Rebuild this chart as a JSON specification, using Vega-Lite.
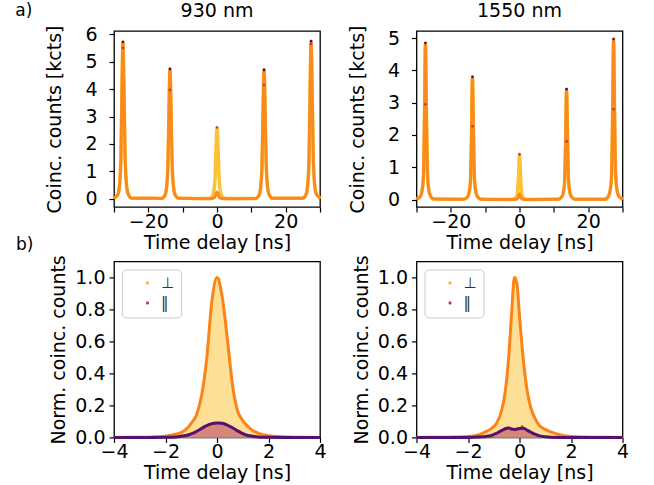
{
  "$schema": "https://vega.github.io/schema/vega-lite/v6.json",
  "padding": {"left": 15, "top": 1, "right": 5, "bottom": 0},
  "title": {"text": "a)", "anchor": "start", "frame": "bounds", "fontSize": 17, "offset": -19},
  "columns": 2,
  "bounds": "flush",
  "spacing": {"column": 96.5, "row": 54.4},
  "resolve": {"scale": {"color": "independent"}, "legend": {"color": "independent"}},
  "datasets": {
    "top930": [
      {"t": -30, "perp": 0, "par": 0},
      {"t": -29.9, "perp": 0.017, "par": 0.017},
      {"t": -28.9, "perp": 0.15, "par": 0.148},
      {"t": -28.4, "perp": 0.489, "par": 0.485},
      {"t": -28.0, "perp": 1.44, "par": 1.425},
      {"t": -27.7, "perp": 3.91, "par": 3.876},
      {"t": -27.4, "perp": 5.75, "par": 5.7},
      {"t": -27.1, "perp": 4.14, "par": 4.1},
      {"t": -26.8, "perp": 1.725, "par": 1.71},
      {"t": -26.4, "perp": 0.575, "par": 0.57},
      {"t": -25.9, "perp": 0.184, "par": 0.182},
      {"t": -24.9, "perp": 0.023, "par": 0.023},
      {"t": -16.2, "perp": 0.014, "par": 0.014},
      {"t": -15.2, "perp": 0.124, "par": 0.123},
      {"t": -14.7, "perp": 0.404, "par": 0.402},
      {"t": -14.3, "perp": 1.19, "par": 1.18},
      {"t": -14.0, "perp": 3.23, "par": 3.22},
      {"t": -13.7, "perp": 4.75, "par": 4.73},
      {"t": -13.4, "perp": 3.42, "par": 3.41},
      {"t": -13.1, "perp": 1.43, "par": 1.42},
      {"t": -12.7, "perp": 0.475, "par": 0.473},
      {"t": -12.2, "perp": 0.152, "par": 0.151},
      {"t": -11.2, "perp": 0.019, "par": 0.019},
      {"t": -2.5, "perp": 0.008, "par": 0.001},
      {"t": -1.5, "perp": 0.068, "par": 0.007},
      {"t": -1.0, "perp": 0.221, "par": 0.021},
      {"t": -0.6, "perp": 0.65, "par": 0.063},
      {"t": -0.3, "perp": 1.77, "par": 0.17},
      {"t": 0, "perp": 2.6, "par": 0.25},
      {"t": 0.3, "perp": 1.87, "par": 0.18},
      {"t": 0.6, "perp": 0.78, "par": 0.075},
      {"t": 1.0, "perp": 0.26, "par": 0.025},
      {"t": 1.5, "perp": 0.083, "par": 0.008},
      {"t": 2.5, "perp": 0.01, "par": 0.001},
      {"t": 11.2, "perp": 0.014, "par": 0.014},
      {"t": 12.2, "perp": 0.123, "par": 0.122},
      {"t": 12.7, "perp": 0.401, "par": 0.4},
      {"t": 13.1, "perp": 1.18, "par": 1.175},
      {"t": 13.4, "perp": 3.21, "par": 3.2},
      {"t": 13.7, "perp": 4.72, "par": 4.7},
      {"t": 14.0, "perp": 3.4, "par": 3.38},
      {"t": 14.3, "perp": 1.42, "par": 1.41},
      {"t": 14.7, "perp": 0.472, "par": 0.47},
      {"t": 15.2, "perp": 0.151, "par": 0.15},
      {"t": 16.2, "perp": 0.019, "par": 0.019},
      {"t": 24.9, "perp": 0.017, "par": 0.017},
      {"t": 25.9, "perp": 0.15, "par": 0.149},
      {"t": 26.4, "perp": 0.489, "par": 0.486},
      {"t": 26.8, "perp": 1.44, "par": 1.43},
      {"t": 27.1, "perp": 3.91, "par": 3.89},
      {"t": 27.4, "perp": 5.75, "par": 5.72},
      {"t": 27.7, "perp": 4.14, "par": 4.12},
      {"t": 28.0, "perp": 1.725, "par": 1.72},
      {"t": 28.4, "perp": 0.575, "par": 0.572},
      {"t": 28.9, "perp": 0.184, "par": 0.183},
      {"t": 29.9, "perp": 0.023, "par": 0.023},
      {"t": 30, "perp": 0, "par": 0}
    ],
    "top1550": [
      {"t": -30, "perp": 0, "par": 0},
      {"t": -29.9, "perp": 0.01, "par": 0.01},
      {"t": -28.9, "perp": 0.097, "par": 0.097},
      {"t": -28.4, "perp": 0.267, "par": 0.266},
      {"t": -28.0, "perp": 0.68, "par": 0.676},
      {"t": -27.7, "perp": 2.43, "par": 2.42},
      {"t": -27.4, "perp": 4.85, "par": 4.83},
      {"t": -27.1, "perp": 2.67, "par": 2.66},
      {"t": -26.8, "perp": 0.776, "par": 0.773},
      {"t": -26.4, "perp": 0.291, "par": 0.29},
      {"t": -25.9, "perp": 0.107, "par": 0.106},
      {"t": -24.9, "perp": 0.015, "par": 0.014},
      {"t": -16.2, "perp": 0.008, "par": 0.008},
      {"t": -15.2, "perp": 0.076, "par": 0.076},
      {"t": -14.7, "perp": 0.209, "par": 0.208},
      {"t": -14.3, "perp": 0.532, "par": 0.531},
      {"t": -14.0, "perp": 1.9, "par": 1.9},
      {"t": -13.7, "perp": 3.8, "par": 3.79},
      {"t": -13.4, "perp": 2.09, "par": 2.08},
      {"t": -13.1, "perp": 0.608, "par": 0.606},
      {"t": -12.7, "perp": 0.228, "par": 0.227},
      {"t": -12.2, "perp": 0.084, "par": 0.083},
      {"t": -11.2, "perp": 0.011, "par": 0.011},
      {"t": -2.5, "perp": 0.003, "par": 0.0},
      {"t": -1.5, "perp": 0.028, "par": 0.004},
      {"t": -1.0, "perp": 0.077, "par": 0.01},
      {"t": -0.6, "perp": 0.196, "par": 0.025},
      {"t": -0.3, "perp": 0.7, "par": 0.09},
      {"t": 0, "perp": 1.4, "par": 0.18},
      {"t": 0.3, "perp": 0.77, "par": 0.099},
      {"t": 0.6, "perp": 0.224, "par": 0.029},
      {"t": 1.0, "perp": 0.084, "par": 0.011},
      {"t": 1.5, "perp": 0.031, "par": 0.004},
      {"t": 2.5, "perp": 0.004, "par": 0.001},
      {"t": 11.2, "perp": 0.007, "par": 0.007},
      {"t": 12.2, "perp": 0.068, "par": 0.068},
      {"t": 12.7, "perp": 0.188, "par": 0.188},
      {"t": 13.1, "perp": 0.479, "par": 0.477},
      {"t": 13.4, "perp": 1.71, "par": 1.7},
      {"t": 13.7, "perp": 3.42, "par": 3.41},
      {"t": 14.0, "perp": 1.88, "par": 1.88},
      {"t": 14.3, "perp": 0.547, "par": 0.546},
      {"t": 14.7, "perp": 0.205, "par": 0.205},
      {"t": 15.2, "perp": 0.075, "par": 0.075},
      {"t": 16.2, "perp": 0.01, "par": 0.01},
      {"t": 24.9, "perp": 0.01, "par": 0.01},
      {"t": 25.9, "perp": 0.099, "par": 0.099},
      {"t": 26.4, "perp": 0.273, "par": 0.272},
      {"t": 26.8, "perp": 0.696, "par": 0.693},
      {"t": 27.1, "perp": 2.49, "par": 2.48},
      {"t": 27.4, "perp": 4.97, "par": 4.95},
      {"t": 27.7, "perp": 2.73, "par": 2.72},
      {"t": 28.0, "perp": 0.795, "par": 0.792},
      {"t": 28.4, "perp": 0.298, "par": 0.297},
      {"t": 28.9, "perp": 0.109, "par": 0.109},
      {"t": 29.9, "perp": 0.015, "par": 0.015},
      {"t": 30, "perp": 0, "par": 0}
    ],
    "dots930": [
      {"t": -27.4, "v": 5.72, "s": "a"},
      {"t": -27.4, "v": 5.5, "s": "b"},
      {"t": -13.7, "v": 4.73, "s": "a"},
      {"t": -13.7, "v": 3.97, "s": "b"},
      {"t": 0, "v": 2.6, "s": "b"},
      {"t": 13.7, "v": 4.7, "s": "a"},
      {"t": 13.7, "v": 4.15, "s": "b"},
      {"t": 27.4, "v": 5.75, "s": "a"},
      {"t": 27.4, "v": 5.65, "s": "b"}
    ],
    "dots1550": [
      {"t": -27.4, "v": 4.85, "s": "a"},
      {"t": -27.4, "v": 2.95, "s": "b"},
      {"t": -13.7, "v": 3.8, "s": "a"},
      {"t": -13.7, "v": 2.27, "s": "b"},
      {"t": 0, "v": 1.4, "s": "b"},
      {"t": 13.7, "v": 3.42, "s": "a"},
      {"t": 13.7, "v": 1.8, "s": "b"},
      {"t": 27.4, "v": 4.97, "s": "a"},
      {"t": 27.4, "v": 2.8, "s": "b"}
    ],
    "bot930": [
      {"t": -4, "perp": 0, "par": 0},
      {"t": -3, "perp": 0.001, "par": 0},
      {"t": -2.5, "perp": 0.003, "par": 0},
      {"t": -2, "perp": 0.008, "par": 0.001},
      {"t": -1.6, "perp": 0.02, "par": 0.003},
      {"t": -1.4, "perp": 0.03, "par": 0.007},
      {"t": -1.2, "perp": 0.05, "par": 0.012},
      {"t": -1.0, "perp": 0.088, "par": 0.022},
      {"t": -0.8, "perp": 0.14, "par": 0.037},
      {"t": -0.6, "perp": 0.26, "par": 0.056},
      {"t": -0.4, "perp": 0.49, "par": 0.074},
      {"t": -0.2, "perp": 0.85, "par": 0.086},
      {"t": 0, "perp": 1.0, "par": 0.09},
      {"t": 0.2, "perp": 0.88, "par": 0.088},
      {"t": 0.4, "perp": 0.62, "par": 0.077},
      {"t": 0.6, "perp": 0.33, "par": 0.06},
      {"t": 0.8, "perp": 0.165, "par": 0.041},
      {"t": 1.0, "perp": 0.105, "par": 0.024},
      {"t": 1.2, "perp": 0.068, "par": 0.012},
      {"t": 1.4, "perp": 0.042, "par": 0.007},
      {"t": 1.6, "perp": 0.026, "par": 0.003},
      {"t": 2.0, "perp": 0.01, "par": 0.001},
      {"t": 2.5, "perp": 0.004, "par": 0},
      {"t": 3, "perp": 0.001, "par": 0},
      {"t": 4, "perp": 0, "par": 0}
    ],
    "bot1550": [
      {"t": -4, "perp": 0, "par": 0},
      {"t": -3, "perp": 0.001, "par": 0},
      {"t": -2.5, "perp": 0.002, "par": 0},
      {"t": -2, "perp": 0.005, "par": 0},
      {"t": -1.6, "perp": 0.015, "par": 0.002},
      {"t": -1.3, "perp": 0.036, "par": 0.006},
      {"t": -1.1, "perp": 0.055, "par": 0.012},
      {"t": -0.9, "perp": 0.085, "par": 0.025},
      {"t": -0.7, "perp": 0.165, "par": 0.042},
      {"t": -0.55, "perp": 0.29, "par": 0.054},
      {"t": -0.42, "perp": 0.5, "par": 0.058},
      {"t": -0.3, "perp": 0.79, "par": 0.053},
      {"t": -0.2, "perp": 1.0, "par": 0.049},
      {"t": -0.1, "perp": 0.96, "par": 0.052},
      {"t": 0, "perp": 0.76, "par": 0.056},
      {"t": 0.14, "perp": 0.5, "par": 0.057},
      {"t": 0.3, "perp": 0.29, "par": 0.045},
      {"t": 0.45, "perp": 0.18, "par": 0.032},
      {"t": 0.6, "perp": 0.12, "par": 0.02},
      {"t": 0.75, "perp": 0.078, "par": 0.011},
      {"t": 1.0, "perp": 0.05, "par": 0.004},
      {"t": 1.2, "perp": 0.036, "par": 0.001},
      {"t": 1.6, "perp": 0.015, "par": 0},
      {"t": 2.0, "perp": 0.005, "par": 0},
      {"t": 2.5, "perp": 0.002, "par": 0},
      {"t": 3, "perp": 0.001, "par": 0},
      {"t": 4, "perp": 0, "par": 0}
    ],
    "pts930": [
      {"t": -3.5, "v": 0.002, "pol": "⊥"},
      {"t": -2.5, "v": 0.004, "pol": "⊥"},
      {"t": -1.2, "v": 0.055, "pol": "⊥"},
      {"t": -0.9, "v": 0.11, "pol": "⊥"},
      {"t": -0.7, "v": 0.19, "pol": "⊥"},
      {"t": -0.5, "v": 0.37, "pol": "⊥"},
      {"t": -0.3, "v": 0.7, "pol": "⊥"},
      {"t": -0.1, "v": 0.97, "pol": "⊥"},
      {"t": 0.1, "v": 0.99, "pol": "⊥"},
      {"t": 0.3, "v": 0.77, "pol": "⊥"},
      {"t": 0.5, "v": 0.46, "pol": "⊥"},
      {"t": 0.7, "v": 0.22, "pol": "⊥"},
      {"t": 0.9, "v": 0.13, "pol": "⊥"},
      {"t": 1.2, "v": 0.07, "pol": "⊥"},
      {"t": 2.5, "v": 0.004, "pol": "⊥"},
      {"t": 3.5, "v": 0.002, "pol": "⊥"},
      {"t": -2.2, "v": 0.001, "pol": "‖"},
      {"t": -0.8, "v": 0.04, "pol": "‖"},
      {"t": -0.5, "v": 0.066, "pol": "‖"},
      {"t": -0.3, "v": 0.08, "pol": "‖"},
      {"t": -0.1, "v": 0.09, "pol": "‖"},
      {"t": 0.1, "v": 0.09, "pol": "‖"},
      {"t": 0.3, "v": 0.082, "pol": "‖"},
      {"t": 0.5, "v": 0.07, "pol": "‖"},
      {"t": 0.8, "v": 0.04, "pol": "‖"},
      {"t": 2.2, "v": 0.001, "pol": "‖"}
    ],
    "pts1550": [
      {"t": -3.5, "v": 0.002, "pol": "⊥"},
      {"t": -1.0, "v": 0.07, "pol": "⊥"},
      {"t": -0.8, "v": 0.12, "pol": "⊥"},
      {"t": -0.6, "v": 0.22, "pol": "⊥"},
      {"t": -0.45, "v": 0.44, "pol": "⊥"},
      {"t": -0.35, "v": 0.68, "pol": "⊥"},
      {"t": -0.25, "v": 0.92, "pol": "⊥"},
      {"t": -0.15, "v": 1.0, "pol": "⊥"},
      {"t": -0.05, "v": 0.9, "pol": "⊥"},
      {"t": 0.05, "v": 0.66, "pol": "⊥"},
      {"t": 0.2, "v": 0.4, "pol": "⊥"},
      {"t": 0.35, "v": 0.25, "pol": "⊥"},
      {"t": 0.55, "v": 0.14, "pol": "⊥"},
      {"t": 0.8, "v": 0.07, "pol": "⊥"},
      {"t": 1.1, "v": 0.04, "pol": "⊥"},
      {"t": 3.5, "v": 0.002, "pol": "⊥"},
      {"t": -0.8, "v": 0.035, "pol": "‖"},
      {"t": -0.55, "v": 0.056, "pol": "‖"},
      {"t": -0.45, "v": 0.06, "pol": "‖"},
      {"t": -0.3, "v": 0.05, "pol": "‖"},
      {"t": -0.2, "v": 0.046, "pol": "‖"},
      {"t": -0.05, "v": 0.053, "pol": "‖"},
      {"t": 0.1, "v": 0.068, "pol": "‖"},
      {"t": 0.3, "v": 0.045, "pol": "‖"},
      {"t": 0.5, "v": 0.026, "pol": "‖"},
      {"t": 0.7, "v": 0.014, "pol": "‖"}
    ]
  },
  "concat": [
    {
      "width": 206, "height": 176,
      "title": {"text": "930 nm", "offset": 4},
      "layer": [
        {
          "data": {"name": "top930"},
          "mark": {"type": "line", "color": "#fbbf2b", "strokeWidth": 3.5, "interpolate": "monotone", "opacity": 0.95},
          "encoding": {
            "x": {"field": "t", "type": "quantitative", "title": "Time delay [ns]", "scale": {"domain": [-30, 30], "nice": false, "zero": false}, "axis": {"values": [-30, -20, -10, 0, 10, 20, 30], "tickCount": 50, "format": "d", "labelPadding": 0, "titlePadding": 2, "labelExpr": "datum.value % 20 == 0 ? datum.label : ''"}},
            "y": {"field": "perp", "type": "quantitative", "title": "Coinc. counts [kcts]", "scale": {"domain": [-0.3, 6.12], "nice": false, "zero": false}, "axis": {"values": [0, 1, 2, 3, 4, 5, 6], "tickCount": 50, "format": "d", "labelPadding": 12, "titlePadding": 20}}
          }
        },
        {
          "data": {"name": "top930"},
          "mark": {"type": "line", "color": "#f98b1e", "strokeWidth": 3, "interpolate": "monotone"},
          "encoding": {
            "x": {"field": "t", "type": "quantitative", "title": "Time delay [ns]"},
            "y": {"field": "par", "type": "quantitative", "title": "Coinc. counts [kcts]"}
          }
        },
        {
          "data": {"name": "dots930"},
          "mark": {"type": "circle", "size": 7, "opacity": 1},
          "encoding": {
            "x": {"field": "t", "type": "quantitative", "title": "Time delay [ns]"},
            "y": {"field": "v", "type": "quantitative", "title": "Coinc. counts [kcts]"},
            "color": {"field": "s", "type": "nominal", "scale": {"domain": ["a", "b"], "range": ["#4a0c6b", "#bc3754"]}, "legend": null}
          }
        }
      ]
    },
    {
      "width": 206, "height": 176,
      "title": {"text": "1550 nm", "offset": 4},
      "layer": [
        {
          "data": {"name": "top1550"},
          "mark": {"type": "line", "color": "#fbbf2b", "strokeWidth": 3.5, "interpolate": "monotone", "opacity": 0.95},
          "encoding": {
            "x": {"field": "t", "type": "quantitative", "title": "Time delay [ns]", "scale": {"domain": [-30, 30], "nice": false, "zero": false}, "axis": {"values": [-30, -20, -10, 0, 10, 20, 30], "tickCount": 50, "format": "d", "labelPadding": 0, "titlePadding": 2, "labelExpr": "datum.value % 20 == 0 ? datum.label : ''"}},
            "y": {"field": "perp", "type": "quantitative", "title": "Coinc. counts [kcts]", "scale": {"domain": [-0.23, 5.22], "nice": false, "zero": false}, "axis": {"values": [0, 1, 2, 3, 4, 5], "tickCount": 50, "format": "d", "labelPadding": 12, "titlePadding": 20}}
          }
        },
        {
          "data": {"name": "top1550"},
          "mark": {"type": "line", "color": "#f98b1e", "strokeWidth": 3, "interpolate": "monotone"},
          "encoding": {
            "x": {"field": "t", "type": "quantitative", "title": "Time delay [ns]"},
            "y": {"field": "par", "type": "quantitative", "title": "Coinc. counts [kcts]"}
          }
        },
        {
          "data": {"name": "dots1550"},
          "mark": {"type": "circle", "size": 7, "opacity": 1},
          "encoding": {
            "x": {"field": "t", "type": "quantitative", "title": "Time delay [ns]"},
            "y": {"field": "v", "type": "quantitative", "title": "Coinc. counts [kcts]"},
            "color": {"field": "s", "type": "nominal", "scale": {"domain": ["a", "b"], "range": ["#4a0c6b", "#bc3754"]}, "legend": null}
          }
        }
      ]
    },
    {
      "width": 206, "height": 176,
      "title": {"text": "b)", "anchor": "start", "frame": "group", "fontSize": 17, "offset": 1, "dx": -98},
      "layer": [
        {
          "data": {"name": "bot930"},
          "mark": {"type": "area", "color": "#fddf96", "interpolate": "monotone"},
          "encoding": {
            "x": {"field": "t", "type": "quantitative", "title": "Time delay [ns]", "scale": {"domain": [-4, 4], "nice": false, "zero": false}, "axis": {"values": [-4, -2, 0, 2, 4], "tickCount": 50, "format": "d", "labelPadding": 0, "titlePadding": 2}},
            "y": {"field": "perp", "type": "quantitative", "title": "Norm. coinc. counts", "scale": {"domain": [0, 1.1], "nice": false}, "axis": {"values": [0, 0.2, 0.4, 0.6, 0.8, 1.0], "tickCount": 50, "format": ".1f", "labelPadding": 4, "titlePadding": 6}}
          }
        },
        {
          "data": {"name": "bot930"},
          "mark": {"type": "area", "color": "#d4877a", "interpolate": "monotone"},
          "encoding": {
            "x": {"field": "t", "type": "quantitative", "title": "Time delay [ns]"},
            "y": {"field": "par", "type": "quantitative", "title": "Norm. coinc. counts"}
          }
        },
        {
          "data": {"name": "pts930"},
          "mark": {"type": "circle", "size": 6, "opacity": 1},
          "encoding": {
            "x": {"field": "t", "type": "quantitative", "title": "Time delay [ns]"},
            "y": {"field": "v", "type": "quantitative", "title": "Norm. coinc. counts"},
            "color": {"field": "pol", "type": "nominal", "scale": {"domain": ["⊥", "‖"], "range": ["#fbb61a", "#bc3754"]}, "legend": {"title": null}}
          }
        },
        {
          "data": {"name": "bot930"},
          "mark": {"type": "line", "color": "#fa8418", "strokeWidth": 3, "interpolate": "monotone"},
          "encoding": {
            "x": {"field": "t", "type": "quantitative", "title": "Time delay [ns]"},
            "y": {"field": "perp", "type": "quantitative", "title": "Norm. coinc. counts"}
          }
        },
        {
          "data": {"name": "bot930"},
          "mark": {"type": "line", "color": "#57106e", "strokeWidth": 3, "interpolate": "monotone"},
          "encoding": {
            "x": {"field": "t", "type": "quantitative", "title": "Time delay [ns]"},
            "y": {"field": "par", "type": "quantitative", "title": "Norm. coinc. counts"}
          }
        }
      ]
    },
    {
      "width": 206, "height": 176,
      "layer": [
        {
          "data": {"name": "bot1550"},
          "mark": {"type": "area", "color": "#fddf96", "interpolate": "monotone"},
          "encoding": {
            "x": {"field": "t", "type": "quantitative", "title": "Time delay [ns]", "scale": {"domain": [-4, 4], "nice": false, "zero": false}, "axis": {"values": [-4, -2, 0, 2, 4], "tickCount": 50, "format": "d", "labelPadding": 0, "titlePadding": 2}},
            "y": {"field": "perp", "type": "quantitative", "title": "Norm. coinc. counts", "scale": {"domain": [0, 1.1], "nice": false}, "axis": {"values": [0, 0.2, 0.4, 0.6, 0.8, 1.0], "tickCount": 50, "format": ".1f", "labelPadding": 4, "titlePadding": 6}}
          }
        },
        {
          "data": {"name": "bot1550"},
          "mark": {"type": "area", "color": "#d4877a", "interpolate": "monotone"},
          "encoding": {
            "x": {"field": "t", "type": "quantitative", "title": "Time delay [ns]"},
            "y": {"field": "par", "type": "quantitative", "title": "Norm. coinc. counts"}
          }
        },
        {
          "data": {"name": "pts1550"},
          "mark": {"type": "circle", "size": 6, "opacity": 1},
          "encoding": {
            "x": {"field": "t", "type": "quantitative", "title": "Time delay [ns]"},
            "y": {"field": "v", "type": "quantitative", "title": "Norm. coinc. counts"},
            "color": {"field": "pol", "type": "nominal", "scale": {"domain": ["⊥", "‖"], "range": ["#fbb61a", "#bc3754"]}, "legend": {"title": null}}
          }
        },
        {
          "data": {"name": "bot1550"},
          "mark": {"type": "line", "color": "#fa8418", "strokeWidth": 3, "interpolate": "monotone"},
          "encoding": {
            "x": {"field": "t", "type": "quantitative", "title": "Time delay [ns]"},
            "y": {"field": "perp", "type": "quantitative", "title": "Norm. coinc. counts"}
          }
        },
        {
          "data": {"name": "bot1550"},
          "mark": {"type": "line", "color": "#57106e", "strokeWidth": 3, "interpolate": "monotone"},
          "encoding": {
            "x": {"field": "t", "type": "quantitative", "title": "Time delay [ns]"},
            "y": {"field": "par", "type": "quantitative", "title": "Norm. coinc. counts"}
          }
        }
      ]
    }
  ],
  "config": {
    "font": "DejaVu Sans",
    "background": "white",
    "view": {"stroke": "black", "strokeWidth": 1.3},
    "axis": {"domain": false, "grid": false, "tickColor": "black", "tickSize": 5, "tickWidth": 1.2, "labelFont": "DejaVu Sans", "labelFontSize": 19, "labelColor": "black", "labelFlush": false, "labelOverlap": false, "labelPadding": 3, "titleFont": "DejaVu Sans", "titleFontSize": 19, "titleFontWeight": "normal", "titleColor": "black", "titlePadding": 3},
    "title": {"font": "DejaVu Sans", "fontSize": 19, "fontWeight": "normal", "color": "black"},
    "legend": {"orient": "top-left", "offset": 8, "padding": 6, "fillColor": "rgba(255,255,255,0.8)", "strokeColor": "#cccccc", "cornerRadius": 4, "symbolSize": 10, "symbolType": "circle", "labelFont": "DejaVu Sans", "labelFontSize": 15, "labelColor": "#333333", "labelOffset": 6, "symbolOffset": 12, "rowPadding": 4}
  }
}
